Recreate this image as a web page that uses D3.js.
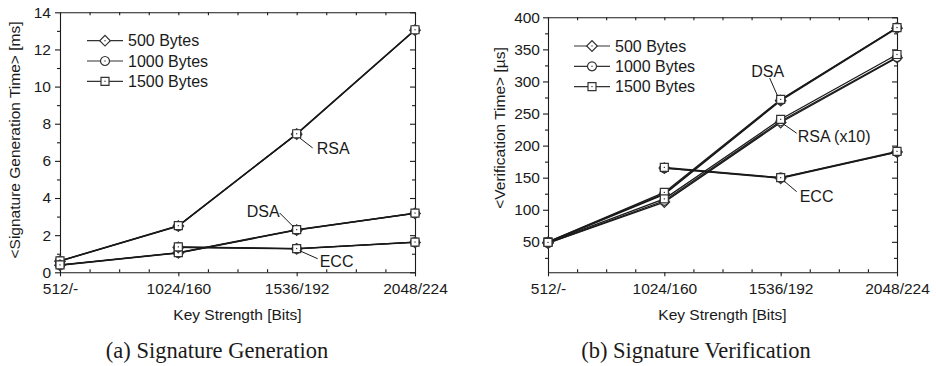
<!DOCTYPE html>
<html>
<head>
<meta charset="utf-8">
<script src="https://cdn.jsdelivr.net/npm/d3@7"></script>
<style>
  body { margin: 0; background: #fff; }
  svg { display: block; }
  .tick text { font-family: "Liberation Sans", Arial, sans-serif; }
</style>
</head>
<body>
<div id="chart"></div>
<script>
// key strengths on the x axis
const categories = ["512/-", "1024/160", "1536/192", "2048/224"];
const sizes = ["500 Bytes", "1000 Bytes", "1500 Bytes"];

// (a) signature generation, ms
const genRSA500 = [0.60, 2.49, 7.44, 13.04];
const genRSA1000 = [0.61, 2.50, 7.45, 13.05];
const genRSA1500 = [0.62, 2.51, 7.46, 13.06];
const genDSA500 = [0.38, 1.04, 2.27, 3.17];
const genDSA1000 = [0.39, 1.05, 2.28, 3.18];
const genDSA1500 = [0.40, 1.06, 2.30, 3.19];
const genECC500 = [null, 1.34, 1.26, 1.61];
const genECC1000 = [null, 1.35, 1.27, 1.62];
const genECC1500 = [null, 1.37, 1.28, 1.63];
const genTicks = [0, 2, 4, 6, 8, 10, 12, 14];

// (b) signature verification, us
const verDSA500 = [49, 124, 270, 383];
const verDSA1000 = [50, 125, 271, 384];
const verDSA1500 = [50, 127, 272, 384];
const verRSA500 = [48, 112, 236, 337];
const verRSA1000 = [48, 114, 238, 338];
const verRSA1500 = [49, 117, 241, 342];
const verECC500 = [null, 165, 149, 190];
const verECC1000 = [null, 165, 150, 190];
const verECC1500 = [null, 166, 150, 191];
const verTicks = [50, 100, 150, 200, 250, 300, 350, 400];

const W = 936, H = 366;
const sans = '"Liberation Sans", Arial, sans-serif';
const ink = "#1a1a1a";

const svg = d3.select("#chart").append("svg")
  .attr("width", W)
  .attr("height", H);

const symbols = [
  { type: d3.symbolSquare, size: 56, rotate: 45 },   // diamond
  { type: d3.symbolCircle, size: 64, rotate: 0 },
  { type: d3.symbolSquare, size: 64, rotate: 0 }
];

const drawMarker = (g, x, y, k) => {
  const s = symbols[k];
  g.append("path")
    .attr("d", d3.symbol().type(s.type).size(s.size)())
    .attr("transform", "translate(" + x + "," + y + ") rotate(" + s.rotate + ")")
    .attr("fill", "#fff")
    .attr("stroke", "#333")
    .attr("stroke-width", 1.2);
  g.append("rect")
    .attr("x", x - 0.6).attr("y", y - 0.6)
    .attr("width", 1.2).attr("height", 1.2)
    .attr("fill", "#333");
}

const makePanel = (opt) => {
  const g = svg.append("g");
  const x = d3.scaleLinear().domain([0, categories.length - 1]).range([opt.left, opt.right]);
  const y = d3.scaleLinear().domain(opt.domain).range([opt.bottom, opt.top]);

  const quarters = d3.range(0, categories.length - 1 + 0.001, 0.25);
  const minorX = quarters.filter(d => d % 1 !== 0);
  const majorStep = opt.ticks[1] - opt.ticks[0];
  const minorY = opt.ticks.map(d => d - majorStep / 2).filter(d => d > opt.domain[0]);

  // frame axes
  g.append("g")
    .attr("transform", "translate(0," + opt.bottom + ")")
    .call(d3.axisBottom(x).tickValues(d3.range(categories.length))
      .tickFormat(i => categories[i]).tickSizeInner(4).tickSizeOuter(0).tickPadding(7));
  g.append("g")
    .attr("transform", "translate(0," + opt.bottom + ")")
    .call(d3.axisBottom(x).tickValues(minorX).tickFormat("").tickSizeInner(-3).tickSizeOuter(0))
    .select(".domain").remove();
  g.append("g")
    .attr("transform", "translate(" + opt.left + ",0)")
    .call(d3.axisLeft(y).tickValues(opt.ticks).tickSizeInner(5).tickSizeOuter(0).tickPadding(opt.labelPad));
  g.append("g")
    .attr("transform", "translate(" + opt.left + ",0)")
    .call(d3.axisLeft(y).tickValues(minorY).tickFormat("").tickSizeInner(3).tickSizeOuter(0))
    .select(".domain").remove();
  g.append("g")
    .attr("transform", "translate(0," + opt.top + ")")
    .call(d3.axisTop(x).tickValues(quarters).tickFormat("").tickSizeInner(-3).tickSizeOuter(0));
  g.append("g")
    .attr("transform", "translate(" + opt.right + ",0)")
    .call(d3.axisRight(y).tickValues(opt.ticks).tickFormat("").tickSizeInner(-5).tickSizeOuter(0));
  g.append("g")
    .attr("transform", "translate(" + opt.right + ",0)")
    .call(d3.axisRight(y).tickValues(minorY).tickFormat("").tickSizeInner(-3).tickSizeOuter(0))
    .select(".domain").remove();

  g.selectAll(".domain, .tick line").attr("stroke", ink).attr("stroke-width", 1.1);
  g.selectAll(".tick text").attr("font-size", 15.5).attr("fill", ink).attr("font-family", sans);

  // axis titles
  g.append("text")
    .text("Key Strength [Bits]")
    .attr("x", (opt.left + opt.right) / 2)
    .attr("y", opt.bottom + 48)
    .attr("text-anchor", "middle")
    .attr("font-family", sans)
    .attr("font-size", 15.5)
    .attr("fill", ink);
  g.append("text")
    .text(opt.yTitle)
    .attr("transform", "translate(" + opt.yTitleX + "," + opt.yTitleY + ") rotate(-90)")
    .attr("text-anchor", "middle")
    .attr("dy", "0.35em")
    .attr("font-family", sans)
    .attr("font-size", 15.5)
    .attr("fill", ink);

  // series
  const line = d3.line()
    .defined(d => d.v != null)
    .x(d => x(d.i))
    .y(d => y(d.v));

  opt.series.forEach(s => {
    const pts = s.values.map((v, i) => ({ i: i, v: v }));
    g.append("path")
      .attr("d", line(pts))
      .attr("fill", "none")
      .attr("stroke", ink)
      .attr("stroke-width", 1.3);
    pts.filter(d => d.v != null).forEach(d => drawMarker(g, x(d.i), y(d.v), s.k));
  });

  // algorithm labels with leader lines
  opt.notes.forEach(n => {
    const px = x(n.i), py = y(n.v);
    g.append("line")
      .attr("x1", px + n.l[0]).attr("y1", py + n.l[1])
      .attr("x2", px + n.l[2]).attr("y2", py + n.l[3])
      .attr("stroke", ink)
      .attr("stroke-width", 1);
    g.append("text")
      .text(n.label)
      .attr("x", px + n.t[0])
      .attr("y", py + n.t[1])
      .attr("dy", "0.35em")
      .attr("text-anchor", n.anchor)
      .attr("font-family", sans)
      .attr("font-size", 16)
      .attr("fill", ink);
  });

  // legend
  sizes.forEach((name, k) => {
    const ly = opt.legendY + k * 20.3;
    g.append("line")
      .attr("x1", opt.legendX).attr("x2", opt.legendX + 36)
      .attr("y1", ly).attr("y2", ly)
      .attr("stroke", "#333")
      .attr("stroke-width", 1.2);
    drawMarker(g, opt.legendX + 18, ly, k);
    g.append("text")
      .text(name)
      .attr("x", opt.legendX + 41)
      .attr("y", ly)
      .attr("dy", "0.35em")
      .attr("font-family", sans)
      .attr("font-size", 16)
      .attr("fill", ink);
  });

  // caption
  g.append("text")
    .text(opt.caption)
    .attr("x", opt.captionX)
    .attr("y", 358)
    .attr("text-anchor", "middle")
    .attr("font-family", '"Liberation Serif", "Times New Roman", serif')
    .attr("font-size", 22.5)
    .attr("fill", ink);
}

makePanel({
  left: 60, right: 415, top: 12.3, bottom: 272.3,
  domain: [0, 14], ticks: genTicks, labelPad: 4,
  yTitle: "<Signature Generation Time> [ms]", yTitleX: 15, yTitleY: 140,
  legendX: 87, legendY: 40.7,
  caption: "(a) Signature Generation", captionX: 217,
  series: [
    { k: 0, values: genRSA500 }, { k: 1, values: genRSA1000 }, { k: 2, values: genRSA1500 },
    { k: 0, values: genDSA500 }, { k: 1, values: genDSA1000 }, { k: 2, values: genDSA1500 },
    { k: 0, values: genECC500 }, { k: 1, values: genECC1000 }, { k: 2, values: genECC1500 }
  ],
  notes: [
    { label: "RSA", i: 2, v: 7.45, l: [3, 4, 16, 14], t: [20, 14], anchor: "start" },
    { label: "DSA", i: 2, v: 2.28, l: [-3, -3, -17, -17], t: [-17, -19], anchor: "end" },
    { label: "ECC", i: 2, v: 1.27, l: [3, 2, 21, 10], t: [23, 13], anchor: "start" }
  ]
});

makePanel({
  left: 548, right: 897, top: 17.3, bottom: 272.3,
  domain: [2.5, 400], ticks: verTicks, labelPad: 3,
  yTitle: "<Verification Time> [\u00b5s]", yTitleX: 500, yTitleY: 128,
  legendX: 574, legendY: 46,
  caption: "(b) Signature Verification", captionX: 696,
  series: [
    { k: 0, values: verDSA500 }, { k: 1, values: verDSA1000 }, { k: 2, values: verDSA1500 },
    { k: 0, values: verRSA500 }, { k: 1, values: verRSA1000 }, { k: 2, values: verRSA1500 },
    { k: 0, values: verECC500 }, { k: 1, values: verECC1000 }, { k: 2, values: verECC1500 }
  ],
  notes: [
    { label: "DSA", i: 2, v: 271, l: [-3, -4, -11, -22], t: [-13, -29], anchor: "middle" },
    { label: "RSA (x10)", i: 2, v: 238, l: [3, 3, 16, 12], t: [17, 15], anchor: "start" },
    { label: "ECC", i: 2, v: 150, l: [3, 3, 16, 14], t: [19, 19], anchor: "start" }
  ]
});
</script>
</body>
</html>
